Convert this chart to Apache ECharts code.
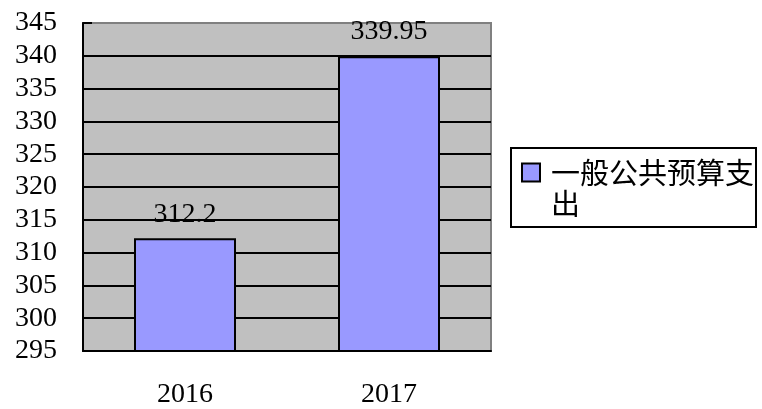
<!DOCTYPE html>
<html>
<head>
<meta charset="utf-8">
<script src="https://cdn.jsdelivr.net/npm/echarts@6/dist/echarts.min.js"></script>
<style>
  html, body { margin: 0; padding: 0; background: #fff; }
  #chart { width: 762px; height: 409px; }
</style>
</head>
<body>
<div id="chart"></div>
<script>
const years = ["2016", "2017"];
const spending = [312.2, 339.95];
const seriesName = "一般公共预算支出";
const yMin = 295, yMax = 345, yStep = 5;

const serif = "'Liberation Serif', 'Noto Sans CJK SC', serif";
const cjk = "'Noto Sans CJK SC', sans-serif";

// top grid line is grey like the frame, the others black
const splitColors = [];
for (let v = yMin; v <= yMax; v += yStep) {
  splitColors.push(v === yMax ? "#808080" : "#000");
}

const chart = echarts.init(document.getElementById("chart"));
chart.setOption({
  animation: false,
  grid: {
    left: 83, right: 271, top: 23, bottom: 56,
    show: true,
    backgroundColor: "#c0c0c0",
    borderColor: "#808080",
    borderWidth: 2
  },
  legend: {
    left: 511, top: 148,
    orient: "vertical",
    data: [seriesName],
    formatter: name => name.slice(0, 7) + "\n" + name.slice(7),
    // square sits next to the first line of the wrapped name
    icon: "path://M0,0M0,2.2H6V8.2H0ZM0,20.67",
    itemWidth: 18, itemHeight: 62, itemGap: 0,
    padding: [8, 2, 7, 10],
    borderColor: "#000",
    borderWidth: 2,
    itemStyle: { borderColor: "#000", borderWidth: 2 },
    textStyle: {
      fontFamily: cjk, fontSize: 29, color: "#000", lineHeight: 31,
      padding: [0, 0, 0, 6]
    }
  },
  xAxis: {
    type: "category",
    data: years,
    axisLine: { lineStyle: { color: "#000", width: 2 } },
    axisTick: { inside: true, length: 9, lineStyle: { color: "#000", width: 2 } },
    axisLabel: { fontFamily: serif, fontSize: 28, color: "#000", margin: 30 }
  },
  yAxis: {
    type: "value",
    min: yMin, max: yMax, interval: yStep,
    axisLine: { show: true, lineStyle: { color: "#000", width: 2 } },
    axisTick: { show: true, inside: true, length: 9, lineStyle: { color: "#000", width: 2 } },
    splitLine: { lineStyle: { color: splitColors, width: 2 } },
    axisLabel: { fontFamily: serif, fontSize: 28, color: "#000", margin: 26 }
  },
  series: [{
    name: seriesName,
    type: "bar",
    data: spending,
    barWidth: "50%",
    itemStyle: { color: "#9999ff", borderColor: "#000", borderWidth: 2 },
    label: {
      show: true,
      position: "top",
      distance: 10,
      fontFamily: serif, fontSize: 28, color: "#000"
    }
  }]
});
</script>
</body>
</html>
